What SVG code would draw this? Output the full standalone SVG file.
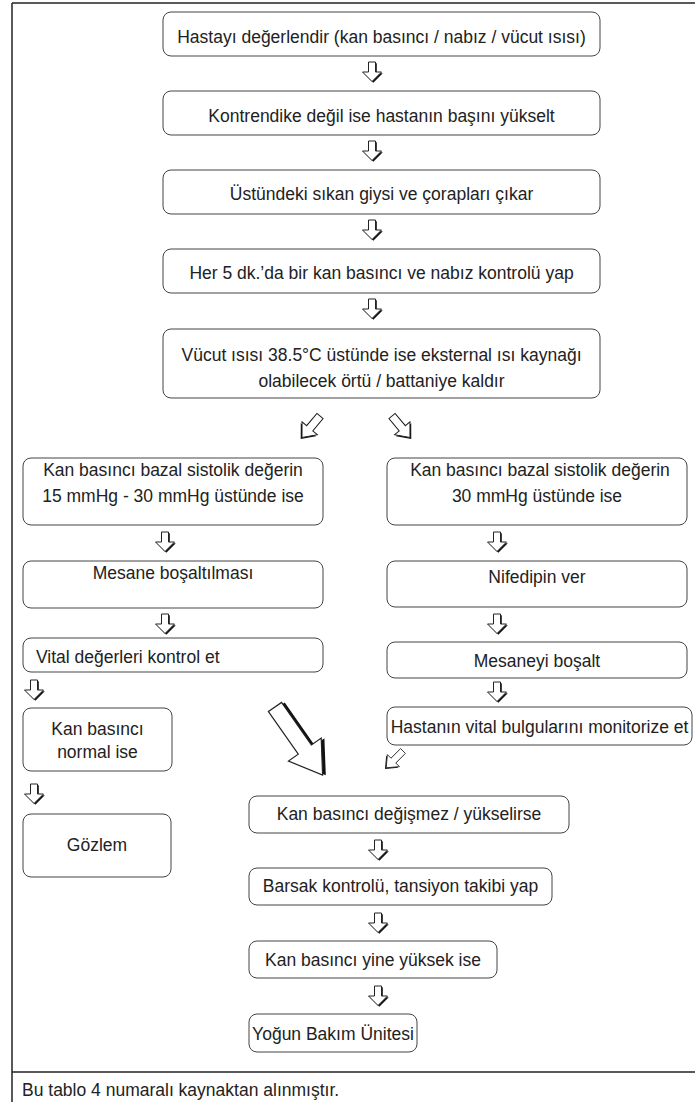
<svg xmlns="http://www.w3.org/2000/svg" xmlns:xlink="http://www.w3.org/1999/xlink" width="695" height="1102" viewBox="0 0 695 1102">
<style>
.box{fill:#fff;stroke:#444;stroke-width:1}
text{font-family:"Liberation Sans",Arial,sans-serif;font-size:17.5px;fill:#222}
.c{text-anchor:middle}
.frame{stroke:#222;stroke-width:1.5;fill:none}
</style>
<defs>
<g id="dn">
<path d="M-3.5,0 H3.5 V10 H9.5 L0,19.5 L-9.5,10 H-3.5 Z" transform="translate(1.3,1.3)" fill="#111"/>
<path d="M-3.5,0 H3.5 V10 H9.5 L0,19.5 L-9.5,10 H-3.5 Z" fill="#fff" stroke="#222" stroke-width="1"/>
</g>
<g id="dg">
<path d="M-4,0 H4 V16 H10 L0,28 L-10,16 H-4 Z" transform="translate(0,2)" fill="#111"/>
<path d="M-4,0 H4 V16 H10 L0,28 L-10,16 H-4 Z" fill="#fff" stroke="#222" stroke-width="1"/>
</g>
<g id="big">
<path d="M-8,0 H8 V52 H20 L0,83 L-20,52 H-8 Z" transform="translate(2.5,2)" fill="#111"/>
<path d="M-8,0 H8 V52 H20 L0,83 L-20,52 H-8 Z" fill="#fff" stroke="#222" stroke-width="1.2"/>
</g>
</defs>
<g id="frame">
<line class="frame" x1="12" y1="3" x2="695" y2="3"/>
<line class="frame" x1="12" y1="3" x2="12" y2="1102"/>
<line class="frame" x1="12" y1="1072" x2="695" y2="1072"/>
</g>
<g id="connectors">
<use xlink:href="#dn" x="372" y="62"/>
<use xlink:href="#dn" x="372" y="141"/>
<use xlink:href="#dn" x="372" y="220"/>
<use xlink:href="#dn" x="372" y="299"/>
<g transform="translate(320,416) rotate(40)"><use xlink:href="#dg"/></g>
<g transform="translate(392,416) rotate(-40)"><use xlink:href="#dg"/></g>
<use xlink:href="#dn" x="165" y="532"/>
<use xlink:href="#dn" x="165" y="614"/>
<use xlink:href="#dn" x="34" y="680"/>
<use xlink:href="#dn" x="34" y="784"/>
<use xlink:href="#dn" x="497" y="532"/>
<use xlink:href="#dn" x="497" y="614"/>
<use xlink:href="#dn" x="497" y="682"/>
<g transform="translate(403,751) rotate(45) scale(0.85)"><use xlink:href="#dg"/></g>
<g transform="translate(275,707) rotate(-35)"><use xlink:href="#big"/></g>
<use xlink:href="#dn" x="378" y="840"/>
<use xlink:href="#dn" x="378" y="913"/>
<use xlink:href="#dn" x="378" y="986"/>
</g>
<g id="n1"><rect class="box" x="163" y="12" width="437" height="44" rx="8"/><text class="c" x="381.5" y="43">Hastayı değerlendir (kan basıncı / nabız / vücut ısısı)</text></g>
<g id="n2"><rect class="box" x="163" y="91" width="437" height="44" rx="8"/><text class="c" x="381.5" y="122">Kontrendike değil ise hastanın başını yükselt</text></g>
<g id="n3"><rect class="box" x="163" y="170" width="437" height="44" rx="8"/><text class="c" x="381.5" y="200">Üstündeki sıkan giysi ve çorapları çıkar</text></g>
<g id="n4"><rect class="box" x="163" y="249" width="437" height="44" rx="8"/><text class="c" x="381.5" y="279">Her 5 dk.’da bir kan basıncı ve nabız kontrolü yap</text></g>
<g id="n5"><rect class="box" x="163" y="329" width="437" height="69" rx="8"/><text class="c" x="381.5" y="361">Vücut ısısı 38.5°C üstünde ise eksternal ısı kaynağı</text><text class="c" x="381.5" y="387">olabilecek örtü / battaniye kaldır</text></g>
<g id="l1"><rect class="box" x="23" y="458" width="300" height="67" rx="8"/><text class="c" x="173" y="476">Kan basıncı bazal sistolik değerin</text><text class="c" x="173" y="502">15 mmHg - 30 mmHg üstünde ise</text></g>
<g id="l2"><rect class="box" x="23" y="561" width="300" height="47" rx="8"/><text class="c" x="173" y="579">Mesane boşaltılması</text></g>
<g id="l3"><rect class="box" x="23" y="638" width="300" height="34" rx="8"/><text x="36" y="663">Vital değerleri kontrol et</text></g>
<g id="l4"><rect class="box" x="23" y="708" width="149" height="63" rx="8"/><text class="c" x="97.5" y="735">Kan basıncı</text><text class="c" x="97.5" y="758">normal ise</text></g>
<g id="l5"><rect class="box" x="23" y="814" width="148" height="63" rx="8"/><text class="c" x="97" y="851">Gözlem</text></g>
<g id="r1"><rect class="box" x="387" y="458" width="300" height="67" rx="8"/><text class="c" x="540" y="476">Kan basıncı bazal sistolik değerin</text><text class="c" x="537" y="502">30 mmHg üstünde ise</text></g>
<g id="r2"><rect class="box" x="387" y="561" width="300" height="46" rx="8"/><text class="c" x="537" y="583">Nifedipin ver</text></g>
<g id="r3"><rect class="box" x="387" y="642" width="300" height="36" rx="8"/><text class="c" x="537" y="667">Mesaneyi boşalt</text></g>
<g id="r4"><rect class="box" x="387" y="707" width="305" height="38" rx="8"/><text class="c" x="539.5" y="733">Hastanın vital bulgularını monitorize et</text></g>
<g id="c1"><rect class="box" x="249" y="796" width="320" height="37" rx="8"/><text class="c" x="409" y="820">Kan basıncı değişmez / yükselirse</text></g>
<g id="c2"><rect class="box" x="249" y="868" width="303" height="37" rx="8"/><text class="c" x="400.5" y="892">Barsak kontrolü, tansiyon takibi yap</text></g>
<g id="c3"><rect class="box" x="249" y="941" width="248" height="37" rx="8"/><text class="c" x="373" y="966">Kan basıncı yine yüksek ise</text></g>
<g id="c4"><rect class="box" x="249" y="1014" width="168" height="38" rx="8"/><text class="c" x="333" y="1040">Yoğun Bakım Ünitesi</text></g>
<g id="footer"><text x="22" y="1096">Bu tablo 4 numaralı kaynaktan alınmıştır.</text></g>
</svg>
